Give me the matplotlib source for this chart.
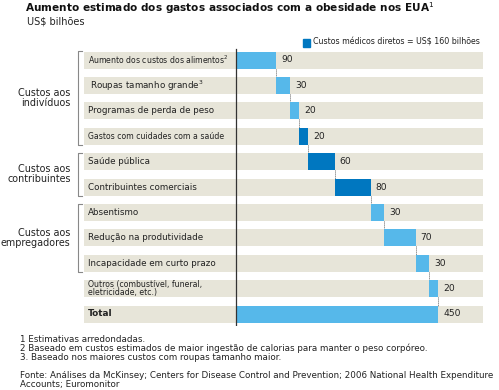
import matplotlib
matplotlib.use("Agg")
import matplotlib.pyplot as plt
from matplotlib.transforms import blended_transform_factory

plt.rcParams['font.family'] = ['DejaVu Sans']

categories = ["Aumento dos custos dos alimentos", "Roupas tamanho grande",
              "Programas de perda de peso", "Gastos com cuidades com a saúde",
              "Saúde pública", "Contribuintes comerciais",
              "Absentismo", "Redução na produtividade", "Incapacidade em curto prazo",
              "Outros (combustível, funeral,\neletricidade, etc.)", "Total"]
superscripts = ["2", "3", "", "", "", "", "", "", "", "", ""]
values = [90, 30, 20, 20, 60, 80, 30, 70, 30, 20, 450]
direct_medical = [False, False, False, True, True, True, False, False, False, False, False]
groups = [("Custos aos\nindivíduos", 0, 3), ("Custos aos\ncontribuintes", 4, 5),
          ("Custos aos\nempregadores", 6, 8)]
legend_label = "Custos médicos diretos = US$ 160 bilhões"

LIGHT = "#56b8ea"
DARK = "#0077c0"
BAND = "#e7e5d9"
TXT = "#222222"

W, H = 499, 390
fig = plt.figure(figsize=(W / 100, H / 100), dpi=100)

def fx(px):
    return px / W

def fy(py):
    return 1 - py / H

# axes covering band area: pixel x 84..483, y 48..326
ax = fig.add_axes([fx(84), fy(326), fx(483) - fx(84), fy(48) - fy(326)])
scale = 202 / 450.0
xmin = (84 - 236) / scale
xmax = (483 - 236) / scale
ax.set_xlim(xmin, xmax)
row_px = 25.4
ax.set_ylim(10 + (326 - 314) / row_px, -(60 - 48) / row_px)
ax.axis('off')

n = len(categories)
bh = 17 / row_px
ax.barh(range(n), [xmax - xmin] * n, left=xmin, height=bh, color=BAND, zorder=1)

cum = 0
ends = []
for i, v in enumerate(values):
    left = 0 if i == n - 1 else cum
    col = DARK if direct_medical[i] else LIGHT
    ax.barh(i, v, left=left, height=bh, color=col, zorder=3)
    end = left + v
    ends.append(end)
    ax.text(end + 5 / scale, i, str(v), va='center', ha='left', fontsize=6.6,
            color=TXT, zorder=4)
    if i < n - 1:
        cum = end

# connectors
for i in range(n - 1):
    x = ends[i]
    ax.plot([x, x], [i + bh / 2, i + 1 - bh / 2], linestyle=(0, (1, 1)),
            color='#666666', lw=0.7, zorder=2)

# zero axis line
ax.plot([0, 0], [-0.45, n - 1 + bh / 2 + 0.15], color='#333333', lw=0.9, zorder=5)

# category labels
for i, c in enumerate(categories):
    fs = 6.35
    weight = 'normal'
    if i in (0, 3, 9):
        fs = 5.6
    if i == n - 1:
        weight = 'bold'
        fs = 6.4
    lab = c
    if superscripts[i]:
        lab = c + r"$^{" + superscripts[i] + "}$"
    ax.text((88 - 236) / scale + (2 / scale if i == 1 else 0), i, lab, va='center',
            ha='left', fontsize=fs, fontweight=weight, color=TXT,
            linespacing=0.95, zorder=4)

# group brackets and labels
bt = blended_transform_factory(fig.transFigure, ax.transData)
for label, s, e in groups:
    y0 = s - 0.35
    y1 = e + 0.35
    ax.plot([fx(82), fx(77.5), fx(77.5), fx(82)], [y0, y0, y1, y1], color='#888888',
            lw=0.8, transform=bt, clip_on=False)
    ax.text(fx(70.5), (s + e) / 2, label, transform=bt, ha='right', va='center',
            fontsize=6.95, color=TXT, linespacing=1.0)

# legend
fig.patches.append(plt.Rectangle((fx(303), fy(46.5)), fx(7), 7 / H, color=DARK,
                                 transform=fig.transFigure))
fig.text(fx(313), fy(42.5), legend_label, fontsize=5.65, va='center', ha='left',
         color=TXT)

# title
fig.text(fx(25), fy(8.5), "Aumento estimado dos gastos associados com a obesidade nos EUA$^{1}$",
         fontsize=7.6, fontweight='bold', va='center', ha='left', color='#111111')
fig.text(fx(27), fy(21.5), "US$ bilhões", fontsize=7.0, va='center', ha='left',
         color=TXT)

# footnotes
notes = ["1 Estimativas arredondadas.",
         "2 Baseado em custos estimados de maior ingestão de calorias para manter o peso corpóreo.",
         "3. Baseado nos maiores custos com roupas tamanho maior."]
for k, t in enumerate(notes):
    fig.text(fx(20), fy(339 + k * 9.3), t, fontsize=6.3, va='center', ha='left',
             color=TXT)
fig.text(fx(20), fy(375.5), "Fonte: Análises da McKinsey; Centers for Disease Control and Prevention; 2006 National Health Expenditure",
         fontsize=6.3, va='center', ha='left', color=TXT)
fig.text(fx(20), fy(384.5), "Accounts; Euromonitor", fontsize=6.3, va='center',
         ha='left', color=TXT)

fig.savefig("out.png", dpi=100)
